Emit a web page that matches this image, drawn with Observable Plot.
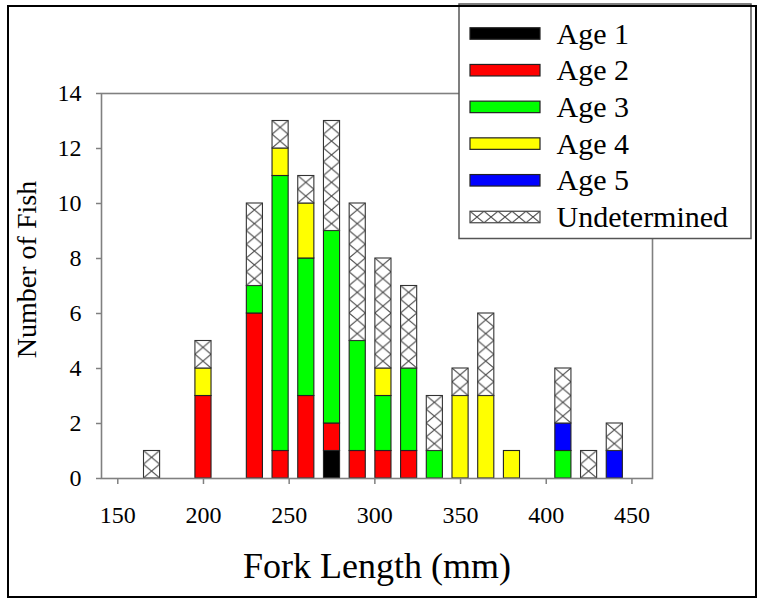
<!DOCTYPE html>
<html><head><meta charset="utf-8">
<script src="https://cdn.jsdelivr.net/npm/d3@7"></script>
<script src="https://cdn.jsdelivr.net/npm/@observablehq/plot@0.6"></script>
<style>
html,body{margin:0;padding:0;background:#fff;}
#wrap{position:relative;width:760px;height:599px;overflow:hidden;background:#fff;font-family:'Liberation Serif','Times New Roman','DejaVu Serif',serif;}
#wrap > svg{position:absolute;left:0;top:0;}
#wrap svg text{font-family:'Liberation Serif','Times New Roman','DejaVu Serif',serif;}
#border{position:absolute;left:7px;top:5px;width:750px;height:593px;border:2.5px solid #000;box-sizing:border-box;pointer-events:none;}
</style>
</head><body>
<div id="wrap"></div>
<script>
// ---- data ----
const bins   = [170,200,230,245,260,275,290,305,320,335,350,365,380,410,425,440];
const age1   = [0,0,0,0,0,1,0,0,0,0,0,0,0,0,0,0];
const age2   = [0,3,6,1,3,1,1,1,1,0,0,0,0,0,0,0];
const age3   = [0,0,1,10,5,7,4,2,3,1,0,0,0,1,0,0];
const age4   = [0,1,0,1,2,0,0,1,0,0,3,3,1,0,0,0];
const age5   = [0,0,0,0,0,0,0,0,0,0,0,0,0,1,0,1];
const undet  = [1,1,3,1,1,4,5,4,3,2,1,3,0,2,1,1];
const seriesNames = ["Age 1","Age 2","Age 3","Age 4","Age 5","Undetermined"];
const seriesColors = ["#000000","#ff0000","#00ff00","#ffff00","#0000ff","hatch"];
const xTicks = [150,200,250,300,350,400,450];
const yTicks = [0,2,4,6,8,10,12,14];

const seriesValues = [age1,age2,age3,age4,age5,undet];
const half = 4.7;
const rows = [];
bins.forEach((b,i)=>{
  let acc = 0;
  seriesValues.forEach((vals,s)=>{
    const v = vals[i];
    if (v > 0) rows.push({bin:b, x1:b-half, x2:b+half, y1:acc, y2:acc+v, series:seriesNames[s], color:seriesColors[s]});
    acc += v;
  });
});
const colored = rows.filter(d=>d.color !== "hatch");
const hatched = rows.filter(d=>d.color === "hatch");

const font = "'Liberation Serif','Times New Roman','DejaVu Serif',serif";
const chart = Plot.plot({
  width:760, height:599,
  marginLeft:101, marginRight:108, marginTop:93, marginBottom:121,
  style:{fontFamily:font, fontSize:"24px", background:"transparent", color:"black", overflow:"visible"},
  x:{domain:[140.5,462]},
  y:{domain:[0,14]},
  color:{type:"identity"},
  marks:[
    Plot.rect(colored, {x1:"x1", x2:"x2", y1:"y1", y2:"y2", fill:"color", stroke:"#222", strokeWidth:1.1}),
    Plot.rect(hatched, {x1:"x1", x2:"x2", y1:"y1", y2:"y2", fill:"url(#hatch)", stroke:"#333", strokeWidth:1.1}),
    Plot.frame({stroke:"#808080", strokeWidth:1.6}),
    Plot.axisY({ticks:yTicks, tickSize:5, tickPadding:15, stroke:"#808080", strokeWidth:1.5, fill:"black", fontSize:24, label:null, tickFormat:d=>String(d)}),
    Plot.axisX({ticks:xTicks, tickSize:6, tickPadding:21, stroke:"#808080", strokeWidth:1.5, fill:"black", fontSize:24, label:null, tickFormat:d=>String(d)}),
    Plot.text(["Fork Length (mm)"], {frameAnchor:"bottom", dy:87.5, fontSize:36, lineAnchor:"middle", textAnchor:"middle", fill:"black"}),
    Plot.text(["Number of Fish"], {frameAnchor:"left", rotate:-90, dx:-74, dy:-16.5, fontSize:28, lineAnchor:"middle", textAnchor:"middle", fill:"black"})
  ]
});
const wrap = document.getElementById("wrap");
wrap.appendChild(chart);

// hatch patterns aligned to each bar
const ns = "http://www.w3.org/2000/svg";
const defs = document.createElementNS(ns,"defs");
chart.insertBefore(defs, chart.firstChild);
const ys = chart.scale("y");
const y0 = ys.apply(0), cell = ys.apply(0) - ys.apply(0.5);
function makePattern(id, x, y, w, h, parentDefs){
  const p = document.createElementNS(ns,"pattern");
  p.setAttribute("id", id);
  p.setAttribute("patternUnits","userSpaceOnUse");
  p.setAttribute("x", x); p.setAttribute("y", y);
  p.setAttribute("width", w); p.setAttribute("height", h);
  const bg = document.createElementNS(ns,"rect");
  bg.setAttribute("width", w); bg.setAttribute("height", h); bg.setAttribute("fill","#fff");
  const path = document.createElementNS(ns,"path");
  path.setAttribute("d", `M0,0L${w},${h}M${w},0L0,${h}`);
  path.setAttribute("stroke","#444"); path.setAttribute("stroke-width","1"); path.setAttribute("fill","none");
  p.appendChild(bg); p.appendChild(path);
  parentDefs.appendChild(p);
}
const hatchRects = [];
chart.querySelectorAll('[fill="url(#hatch)"]').forEach(el=>{
  if (el.tagName.toLowerCase() === "rect") hatchRects.push(el);
  else el.querySelectorAll("rect").forEach(r=>hatchRects.push(r));
});
hatchRects.forEach((r,i)=>{
  const bb = r.getBBox();
  makePattern("hatch"+i, bb.x, y0, bb.width, cell, defs);
  r.setAttribute("fill", `url(#hatch${i})`);
});

// legend
const lg = document.createElementNS(ns,"svg");
lg.setAttribute("width",760); lg.setAttribute("height",599);
lg.style.position="absolute"; lg.style.left="0"; lg.style.top="0";
const ldefs = document.createElementNS(ns,"defs");
lg.appendChild(ldefs);
const box = document.createElementNS(ns,"rect");
box.setAttribute("x",459); box.setAttribute("y",4); box.setAttribute("width",292); box.setAttribute("height",234.5);
box.setAttribute("fill","#fff"); box.setAttribute("stroke","#555"); box.setAttribute("stroke-width","1.5");
lg.appendChild(box);
seriesNames.forEach((name,k)=>{
  const cy = 33.5 + k*36.7;
  const sw = document.createElementNS(ns,"rect");
  sw.setAttribute("x",470); sw.setAttribute("y",cy-5.75); sw.setAttribute("width",70); sw.setAttribute("height",11.5);
  if (seriesColors[k] === "hatch") {
    makePattern("lhatch", 470, cy-5.75, 14, 11.5, ldefs);
    sw.setAttribute("fill","url(#lhatch)");
    sw.setAttribute("stroke","#444");
  } else {
    sw.setAttribute("fill",seriesColors[k]);
    sw.setAttribute("stroke","#222");
  }
  sw.setAttribute("stroke-width","1.2");
  lg.appendChild(sw);
  const t = document.createElementNS(ns,"text");
  t.setAttribute("x",556.5); t.setAttribute("y",cy+10);
  t.setAttribute("font-family",font); t.setAttribute("font-size","30px"); t.setAttribute("fill","#000");
  t.textContent = name;
  lg.appendChild(t);
});
wrap.appendChild(lg);

const border = document.createElement("div");
border.id = "border";
wrap.appendChild(border);
</script>
</body></html>
